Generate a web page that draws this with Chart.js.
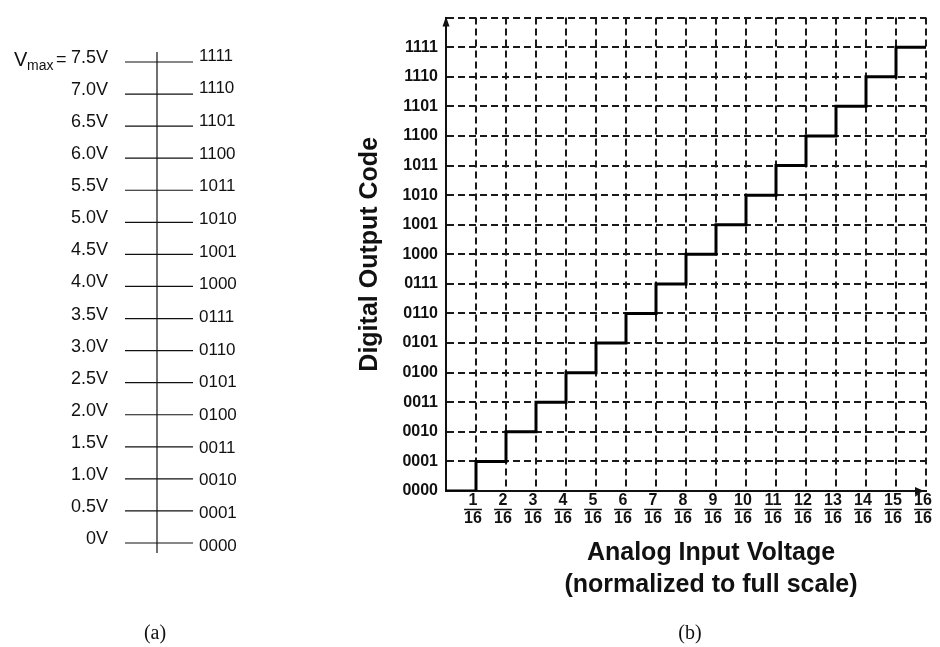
<!DOCTYPE html>
<html>
<head>
<meta charset="utf-8">
<title>ADC quantisation</title>
<script src="https://cdn.jsdelivr.net/npm/chart.js@4.4.1/dist/chart.umd.min.js"></script>
<style>
    html, body { margin: 0; padding: 0; background: #fff; }
    #wrap { position: relative; width: 940px; height: 647px; overflow: hidden; }
    canvas { position: absolute; top: 0; }
    #levels { left: 0; }
    #transfer { left: 330px; }
    .caption {
        position: absolute;
        top: 621px;
        line-height: 24px;
        font: 20px "Liberation Serif", "Times New Roman", serif;
        color: #111;
        transform: translateX(-50%);
    }
</style>
</head>
<body>
<div id="wrap">
    <canvas id="levels" width="330" height="647"></canvas>
    <canvas id="transfer" width="610" height="647"></canvas>
    <div class="caption" style="left:155px">(a)</div>
    <div class="caption" style="left:690px">(b)</div>
</div>
<script>
//  =========== DATA ==============
const CODES = ['0000', '0001', '0010', '0011', '0100', '0101', '0110', '0111',
               '1000', '1001', '1010', '1011', '1100', '1101', '1110', '1111'];
const CODE_INDEX = [0, 1, 2, 3, 4, 5, 6, 7, 8, 9, 10, 11, 12, 13, 14, 15];
const VOLTAGES = [0, 0.5, 1.0, 1.5, 2.0, 2.5, 3.0, 3.5, 4.0, 4.5, 5.0, 5.5, 6.0, 6.5, 7.0, 7.5];

// transfer curve: input in sixteenths of full scale -> output code index
const STEP_X    = [0, 1, 2, 3, 4, 5, 6, 7, 8, 9, 10, 11, 12, 13, 14, 15, 16];
const STEP_CODE = [0, 1, 2, 3, 4, 5, 6, 7, 8, 9, 10, 11, 12, 13, 14, 15, 15];
const X_TICKS   = [0, 1, 2, 3, 4, 5, 6, 7, 8, 9, 10, 11, 12, 13, 14, 15, 16];
const Y_TICKS   = [0, 1, 2, 3, 4, 5, 6, 7, 8, 9, 10, 11, 12, 13, 14, 15, 16];
const DENOMINATOR = '16';

const Y_TITLE = 'Digital Output Code';
const X_TITLE = ['Analog Input Voltage', '(normalized to full scale)'];

//  =========== STYLE ==============
const FONT = '"Liberation Sans", Arial, sans-serif';
const INK = '#111';
const X_LABEL_SHIFT = -3;

//  =========== (a) voltage levels ==============
const V_AXIS = { min: -0.156, max: 7.656 };
const CODE_AXIS = { min: -0.214, max: 15.12 };
const TICK_SPAN = { left: -32, right: 36 };

function formatVolt(v) {
    return v === 0 ? '0V' : v.toFixed(1) + 'V';
}

const vmaxLabel = {
    id: 'vmaxLabel',
    afterDraw(chart) {
        const ctx = chart.ctx;
        const y = chart.scales.v.getPixelForValue(VOLTAGES[VOLTAGES.length - 1]);
        ctx.save();
        ctx.fillStyle = INK;
        ctx.textAlign = 'left';
        ctx.textBaseline = 'alphabetic';
        ctx.font = '20px ' + FONT;
        ctx.fillText('V', 14, y + 4);
        ctx.font = '14px ' + FONT;
        ctx.fillText('max', 27, y + 8);
        ctx.font = '18px ' + FONT;
        ctx.fillText('=', 56, y + 2.5);
        ctx.restore();
    }
};

const lineStyle = { showLine: true, borderColor: INK, backgroundColor: INK, borderWidth: 1.2, pointRadius: 0 };

const levelDatasets = VOLTAGES.map(v => ({
    ...lineStyle,
    data: [{ x: TICK_SPAN.left, y: v }, { x: TICK_SPAN.right, y: v }],
    xAxisID: 'x',
    yAxisID: 'v'
}));
levelDatasets.push({
    ...lineStyle,
    data: [{ x: 0, y: V_AXIS.min }, { x: 0, y: V_AXIS.max }],
    xAxisID: 'x',
    yAxisID: 'v'
});

new Chart(document.getElementById('levels'), {
    type: 'scatter',
    data: { datasets: levelDatasets },
    options: {
        responsive: false,
        animation: false,
        devicePixelRatio: 1,
        layout: { padding: { top: 52, bottom: 94, left: 0, right: 0 } },
        plugins: { legend: { display: false }, tooltip: { enabled: false } },
        scales: {
            x: { type: 'linear', display: false, min: TICK_SPAN.left, max: TICK_SPAN.right },
            v: {
                type: 'linear',
                position: 'left',
                min: V_AXIS.min,
                max: V_AXIS.max,
                afterBuildTicks: s => { s.ticks = VOLTAGES.map(value => ({ value })); },
                afterFit: s => { s.width = 125; },
                grid: { display: false, drawTicks: false },
                border: { display: false },
                ticks: {
                    autoSkip: false,
                    padding: 17,
                    labelOffset: -4,
                    color: INK,
                    font: { family: FONT, size: 18 },
                    callback: v => formatVolt(v)
                }
            },
            code: {
                type: 'linear',
                position: 'right',
                min: CODE_AXIS.min,
                max: CODE_AXIS.max,
                afterBuildTicks: s => { s.ticks = CODE_INDEX.map(value => ({ value })); },
                afterFit: s => { s.width = 137; },
                grid: { display: false, drawTicks: false },
                border: { display: false },
                ticks: {
                    autoSkip: false,
                    padding: 6,
                    color: INK,
                    font: { family: FONT, size: 17 },
                    callback: i => CODES[i]
                }
            }
        }
    },
    plugins: [vmaxLabel]
});

//  =========== (b) transfer curve ==============
const transferExtras = {
    id: 'transferExtras',
    afterDraw(chart) {
        const { ctx, chartArea: a } = chart;
        const x = chart.scales.x;
        ctx.save();
        ctx.fillStyle = INK;
        ctx.strokeStyle = INK;

        // arrow heads on the axes
        ctx.beginPath();
        ctx.moveTo(a.left, a.top - 1);
        ctx.lineTo(a.left - 3.5, a.top + 9);
        ctx.lineTo(a.left + 3.5, a.top + 9);
        ctx.fill();
        ctx.beginPath();
        ctx.moveTo(a.right - 2, a.bottom);
        ctx.lineTo(a.right - 11, a.bottom - 4);
        ctx.lineTo(a.right - 11, a.bottom + 4);
        ctx.fill();

        // fraction bars under the numerators
        ctx.font = 'bold 16px ' + FONT;
        ctx.lineWidth = 1.5;
        X_TICKS.filter(v => v > 0).forEach(v => {
            const cx = x.getPixelForValue(v) + X_LABEL_SHIFT;
            const w = Math.max(ctx.measureText(String(v)).width, ctx.measureText(DENOMINATOR).width);
            ctx.beginPath();
            ctx.moveTo(cx - w / 2, x.top + 18.5);
            ctx.lineTo(cx + w / 2, x.top + 18.5);
            ctx.stroke();
        });

        // x axis title
        ctx.font = 'bold 25px ' + FONT;
        ctx.textAlign = 'center';
        ctx.textBaseline = 'middle';
        const tx = (a.left + a.right) / 2 + 25;
        X_TITLE.forEach((line, i) => ctx.fillText(line, tx, x.top + 62 + i * 32));
        ctx.restore();
    }
};

new Chart(document.getElementById('transfer'), {
    type: 'line',
    data: {
        datasets: [{
            data: STEP_X.map((x, i) => ({ x, y: STEP_CODE[i] })),
            stepped: 'before',
            borderColor: '#000',
            backgroundColor: '#000',
            borderWidth: 3,
            pointRadius: 0,
            fill: false
        }]
    },
    options: {
        responsive: false,
        animation: false,
        devicePixelRatio: 1,
        layout: { padding: { top: 11, right: 14, left: 0, bottom: 0 } },
        plugins: { legend: { display: false }, tooltip: { enabled: false } },
        scales: {
            x: {
                type: 'linear',
                min: 0,
                max: 16,
                afterBuildTicks: s => { s.ticks = X_TICKS.map(value => ({ value })); },
                afterFit: s => { s.height = 156; },
                grid: { color: '#1a1a1a', lineWidth: 2, drawTicks: false },
                border: { display: true, color: INK, width: 2, dash: [7, 4] },
                ticks: {
                    autoSkip: false,
                    maxRotation: 0,
                    minRotation: 0,
                    padding: 1,
                    labelOffset: X_LABEL_SHIFT,
                    color: INK,
                    font: { family: FONT, size: 16, weight: 'bold', lineHeight: 1.1 },
                    callback: v => v === 0 ? '' : [String(v), DENOMINATOR]
                }
            },
            y: {
                type: 'linear',
                min: 0,
                max: 16,
                afterBuildTicks: s => { s.ticks = Y_TICKS.map(value => ({ value })); },
                afterFit: s => { s.width = 116; },
                grid: { color: '#1a1a1a', lineWidth: 2, drawTicks: false },
                border: { display: true, color: INK, width: 2, dash: [7, 4] },
                title: {
                    display: true,
                    text: Y_TITLE,
                    color: INK,
                    font: { family: FONT, size: 25, weight: 'bold' },
                    padding: { top: 25, bottom: 0 }
                },
                ticks: {
                    autoSkip: false,
                    padding: 8,
                    color: INK,
                    font: { family: FONT, size: 16, weight: 'bold' },
                    callback: v => CODES[v] !== undefined ? CODES[v] : ''
                }
            }
        }
    },
    plugins: [transferExtras]
});
</script>
</body>
</html>
